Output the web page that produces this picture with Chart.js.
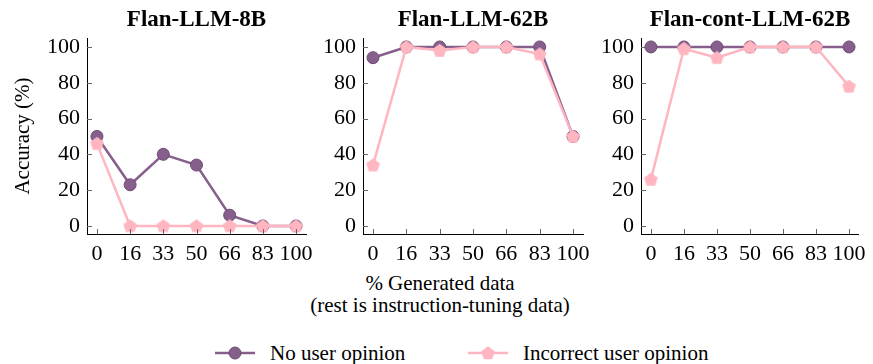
<!DOCTYPE html>
<html>
<head>
<meta charset="utf-8">
<script src="https://cdn.jsdelivr.net/npm/chart.js@4/dist/chart.umd.min.js"></script>
<style>
    body { margin: 0; background: #fff; }
    #wrap { position: relative; width: 873px; height: 364px; font-family: "Liberation Serif", serif; color: #000; }
    canvas { position: absolute; top: 0; }
    .lbl { position: absolute; left: 240px; width: 400px; text-align: center; font-size: 21px; line-height: 22px; }
    .leg { position: absolute; top: 341px; font-size: 21px; line-height: 24px; display: flex; align-items: center; }
    .leg svg { margin-right: 15px; }
</style>
</head>
<body>
<div id="wrap">
    <canvas id="c1" width="320" height="270" style="left:0px"></canvas>
    <canvas id="c2" width="307" height="270" style="left:290px"></canvas>
    <canvas id="c3" width="305" height="270" style="left:568px"></canvas>
    <div class="lbl" style="top:272px">% Generated data</div>
    <div class="lbl" style="top:294px">(rest is instruction-tuning data)</div>
    <div class="leg" style="left:215px">
        <svg width="40" height="20"><line x1="0" y1="10" x2="40" y2="10" stroke="#875F8C" stroke-width="2.5"/><circle cx="20" cy="10" r="6" fill="#875F8C" stroke="#6e4a73"/></svg>No user opinion
    </div>
    <div class="leg" style="left:468px">
        <svg width="40" height="20"><line x1="0" y1="10" x2="40" y2="10" stroke="#FFB6C1" stroke-width="2.5"/><polygon id="pent" fill="#FFB6C1"/></svg>Incorrect user opinion
    </div>
</div>
<script>
const xLabels = ['0', '16', '33', '50', '66', '83', '100'];
const yTicks = [0, 20, 40, 60, 80, 100];
const panelTitles = ['Flan-LLM-8B', 'Flan-LLM-62B', 'Flan-cont-LLM-62B'];

const noOpinion8B = [50, 23, 40, 34, 6, 0, 0];
const incorrect8B = [46, 0, 0, 0, 0, 0, 0];
const noOpinion62B = [94, 100, 100, 100, 100, 100, 50];
const incorrect62B = [34, 100, 98, 100, 100, 96, 50];
const noOpinionCont = [100, 100, 100, 100, 100, 100, 100];
const incorrectCont = [26, 99, 94, 100, 100, 100, 78];

const purple = '#875F8C';
const pink = '#FFB6C1';
const font = '"Liberation Serif", serif';

function pentagonPoints(cx, cy, r) {
    const pts = [];
    for (let i = 0; i < 5; i++) {
        const a = -Math.PI / 2 + i * 2 * Math.PI / 5;
        pts.push([cx + r * Math.cos(a), cy + r * Math.sin(a)]);
    }
    return pts;
}

// pentagon marker as an image for pointStyle
const pent = document.createElement('canvas');
pent.width = 15; pent.height = 15;
(function () {
    const c = pent.getContext('2d');
    c.fillStyle = pink;
    c.beginPath();
    pentagonPoints(7.5, 8, 7.2).forEach((p, i) => i ? c.lineTo(p[0], p[1]) : c.moveTo(p[0], p[1]));
    c.closePath();
    c.fill();
})();
document.getElementById('pent').setAttribute('points',
    pentagonPoints(20, 10.5, 7.2).map(p => p.join(',')).join(' '));

const titlePlugin = {
    id: 'panelTitle',
    afterDraw(chart, args, opts) {
        const { ctx, chartArea } = chart;
        ctx.save();
        ctx.font = 'bold 23px ' + font;
        ctx.fillStyle = '#000';
        ctx.textAlign = 'center';
        ctx.textBaseline = 'middle';
        ctx.fillText(opts.text, (chartArea.left + chartArea.right) / 2, 20);
        ctx.restore();
    }
};

// pgfplots-style tick marks pointing into the plot
const innerTicks = {
    id: 'innerTicks',
    afterDatasetsDraw(chart) {
        const { ctx, chartArea, scales } = chart;
        ctx.save();
        ctx.strokeStyle = '#666';
        ctx.lineWidth = 1;
        ctx.beginPath();
        scales.x.ticks.forEach(t => {
            const x = Math.round(scales.x.getPixelForValue(t.value)) + 0.5;
            ctx.moveTo(x, chartArea.bottom);
            ctx.lineTo(x, chartArea.bottom - 5);
        });
        scales.y.ticks.forEach(t => {
            const y = Math.round(scales.y.getPixelForValue(t.value)) + 0.5;
            ctx.moveTo(chartArea.left, y);
            ctx.lineTo(chartArea.left + 5, y);
        });
        ctx.stroke();
        ctx.restore();
    }
};

function makePanel(id, title, noOp, incorrect, axisWidth, showYTitle) {
    new Chart(document.getElementById(id), {
        type: 'line',
        data: {
            datasets: [
                {
                    label: 'No user opinion',
                    data: noOp.map((y, i) => ({ x: i, y })),
                    borderColor: purple,
                    borderWidth: 2.5,
                    pointStyle: 'circle',
                    pointRadius: 6,
                    pointBackgroundColor: purple,
                    pointBorderColor: '#6e4a73',
                    pointBorderWidth: 1,
                    order: 2
                },
                {
                    label: 'Incorrect user opinion',
                    data: incorrect.map((y, i) => ({ x: i, y })),
                    borderColor: pink,
                    borderWidth: 2.5,
                    pointStyle: pent,
                    pointRadius: 7,
                    order: 1
                }
            ]
        },
        options: {
            responsive: false,
            animation: false,
            layout: { padding: { top: 38, right: 10, left: 0, bottom: 0 } },
            plugins: {
                legend: { display: false },
                tooltip: { enabled: false },
                panelTitle: { text: title }
            },
            scales: {
                x: {
                    type: 'linear',
                    min: -0.3,
                    max: 6.3,
                    grid: { display: false, drawTicks: false },
                    border: { display: true, color: '#000', width: 1 },
                    afterBuildTicks: s => { s.ticks = xLabels.map((l, i) => ({ value: i })); },
                    afterFit: s => { s.height = 36; },
                    ticks: {
                        padding: 7,
                        color: '#000',
                        font: { family: font, size: 22 },
                        maxRotation: 0,
                        autoSkip: false,
                        callback: v => xLabels[v]
                    }
                },
                y: {
                    min: -4.5,
                    max: 105,
                    grid: { display: false, drawTicks: false },
                    border: { display: true, color: '#000', width: 1 },
                    afterBuildTicks: s => { s.ticks = yTicks.map(v => ({ value: v })); },
                    afterFit: s => { s.width = axisWidth; },
                    ticks: {
                        padding: 7,
                        color: '#000',
                        font: { family: font, size: 22 }
                    },
                    title: {
                        display: showYTitle,
                        text: 'Accuracy (%)',
                        color: '#000',
                        font: { family: font, size: 21 },
                        padding: { top: 11, bottom: 0 }
                    }
                }
            }
        },
        plugins: [titlePlugin, innerTicks]
    });
}

makePanel('c1', panelTitles[0], noOpinion8B, incorrect8B, 87, true);
makePanel('c2', panelTitles[1], noOpinion62B, incorrect62B, 73, false);
makePanel('c3', panelTitles[2], noOpinionCont, incorrectCont, 73, false);
</script>
</body>
</html>
